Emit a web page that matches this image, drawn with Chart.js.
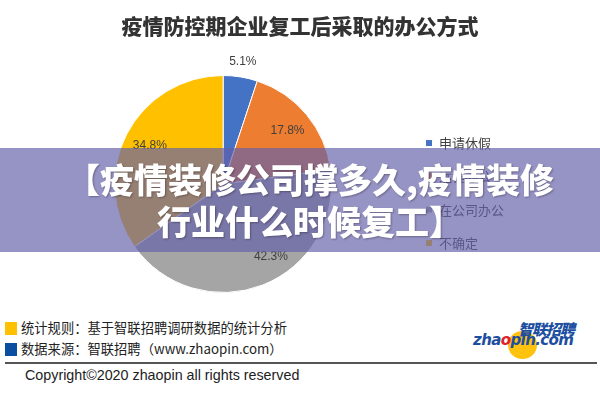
<!DOCTYPE html>
<html>
<head>
<meta charset="utf-8">
<script src="https://cdn.jsdelivr.net/npm/chart.js@4"></script>
<style>
  body { margin: 0; background: #fff; }
  #wrap { position: relative; width: 600px; height: 400px; overflow: hidden; font-family: "Noto Sans CJK SC", sans-serif; }
  #chartBox { position: absolute; left: 0; top: 0; width: 600px; height: 300px; }
  #title { position: absolute; left: 0; top: 10px; width: 600px; text-align: center; font-size: 21px; font-weight: 900; color: #333; }
  #banner {
    position: absolute; left: 0; top: 148px; width: 600px; height: 104px;
    background: rgba(100, 96, 170, 0.68);
    color: #fff; font-weight: 900; font-size: 34px; line-height: 42px;
    text-align: center; box-sizing: border-box; padding: 10px 0 0 20px;
    text-shadow: 1px 1px 2px rgba(0,0,0,0.3);
  }
  .note { position: absolute; left: 21px; font-size: 13.3px; color: #222; line-height: 16px; }
  .sq { position: absolute; left: 5px; width: 12px; height: 13px; }
  #rule { position: absolute; left: 5px; top: 362px; width: 592px; height: 2px; background: #555; }
  #copy { position: absolute; left: 25px; top: 367px; font-family: "Liberation Sans", sans-serif; font-size: 14.3px; color: #222; }
  #logoSun { position: absolute; left: 508px; top: 331px; width: 29px; height: 28px; border-radius: 50%; background: #ffc20e; }
  #logoCn { position: absolute; left: 518px; top: 320px; font-size: 15px; font-weight: 900; font-style: italic; color: #1d4fa0; letter-spacing: -1px; line-height: 18px; }
  #logoEn { position: absolute; left: 473px; top: 331px; font-family: "DejaVu Sans", sans-serif; font-size: 15px; font-weight: bold; font-style: italic; color: #1d4fa0; letter-spacing: -0.6px; line-height: 18px; }
  #logoEn .o { color: #e0202a; }
</style>
</head>
<body>
<div id="wrap">
  <div id="chartBox"><canvas id="pie"></canvas></div>
  <div id="title">疫情防控期企业复工后采取的办公方式</div>
  <div id="banner">【疫情装修公司撑多久,疫情装修<br>行业什么时候复工】</div>
  <div class="sq" style="top:322px;background:#ffc000"></div>
  <div class="note" style="top:320px">统计规则：基于智联招聘调研数据的统计分析</div>
  <div class="sq" style="top:343px;background:#0a4ea0"></div>
  <div class="note" style="top:341px">数据来源：智联招聘（www.zhaopin.com）</div>
  <div id="logoSun"></div>
  <div id="logoCn">智联招聘</div>
  <div id="logoEn">zha<span class="o">o</span>pin.com</div>
  <div id="rule"></div>
  <div id="copy">Copyright©2020 zhaopin all rights reserved</div>
</div>
<script>
const categories = ['申请休假', '远程办公', '在公司办公', '不确定']
const shares = [5.1, 17.8, 42.3, 34.8]
const sliceColors = ['#4472c4', '#ed7d31', '#a5a5a5', '#ffc000']

// 标签离圆心的距离（半径倍数）和角度微调
const labelDist = [1.14, 0.77, 0.8, 0.76]
const labelTurn = [0, 0, -12, 0]

const pctLabels = {
  id: 'pctLabels',
  afterDatasetsDraw(chart) {
    const ctx = chart.ctx
    const meta = chart.getDatasetMeta(0)
    ctx.save()
    ctx.font = '12px "Liberation Sans", sans-serif'
    ctx.fillStyle = '#404040'
    ctx.textAlign = 'center'
    ctx.textBaseline = 'middle'
    meta.data.forEach((arc, i) => {
      const p = arc.getProps(['x', 'y', 'startAngle', 'endAngle', 'outerRadius'], true)
      const a = (p.startAngle + p.endAngle) / 2 + labelTurn[i] * Math.PI / 180
      const r = p.outerRadius * labelDist[i]
      ctx.fillText(shares[i].toFixed(1) + '%', p.x + Math.cos(a) * r, p.y + Math.sin(a) * r)
    })
    ctx.restore()
  }
}

// 图例整体下移
const legendShift = {
  id: 'legendShift',
  afterLayout(chart) {
    chart.legend.top += 9
    chart.legend.bottom += 9
  }
}

new Chart(document.getElementById('pie'), {
  type: 'pie',
  data: {
    labels: categories,
    datasets: [{
      data: shares,
      backgroundColor: sliceColors,
      borderColor: '#fff',
      borderWidth: 1
    }]
  },
  options: {
    responsive: true,
    maintainAspectRatio: false,
    animation: false,
    layout: { padding: { left: 41, right: 86, top: 75, bottom: 7 } },
    plugins: {
      legend: {
        position: 'right',
        labels: {
          boxWidth: 7,
          boxHeight: 7,
          padding: 20.3,
          color: '#404040',
          font: { size: 13, family: '"Noto Sans CJK SC", sans-serif' }
        }
      },
      tooltip: { enabled: false }
    }
  },
  plugins: [pctLabels, legendShift]
})
</script>
</body>
</html>
